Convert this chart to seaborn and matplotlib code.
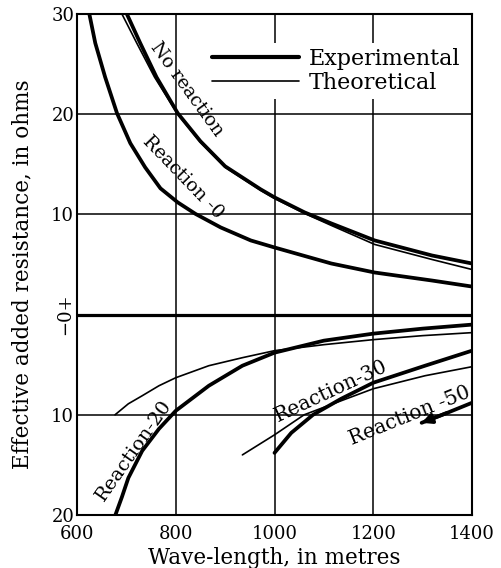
import matplotlib
matplotlib.use("Agg")
import matplotlib.pyplot as plt
from matplotlib.lines import Line2D
from matplotlib.ticker import FixedLocator
import seaborn as sns

# ---------------- data ----------------
noreac_exp_x = [701, 728, 761, 804, 850, 900, 972, 1000, 1061, 1115, 1203, 1319, 1400]
noreac_exp_y = [30, 27.1, 23.7, 20.1, 17.3, 14.8, 12.5, 11.7, 10.2, 9.1, 7.4, 5.9, 5.1]

noreac_th_x = [691, 721, 757, 804, 850, 900, 972, 1000, 1061, 1115, 1203, 1319, 1400]
noreac_th_y = [30, 27.1, 23.7, 20.0, 17.2, 14.7, 12.4, 11.6, 10.1, 8.9, 7.0, 5.5, 4.5]

reac0_x = [625, 637, 657, 681, 708, 738, 769, 804, 840, 891, 952, 1000, 1115, 1203, 1319, 1400]
reac0_y = [30, 27.1, 23.7, 20.1, 17.1, 14.7, 12.6, 11.2, 10.05, 8.7, 7.4, 6.7, 5.1, 4.2, 3.4, 2.8]

reac20_th_x = [677, 704, 732, 766, 800, 867, 935, 1000, 1100, 1200, 1300, 1400]
reac20_th_y = [-10.0, -8.9, -8.1, -7.1, -6.3, -5.1, -4.3, -3.6, -3.0, -2.5, -2.1, -1.8]

reac20_exp_x = [677, 691, 704, 732, 766, 800, 867, 935, 1000, 1100, 1200, 1300, 1400]
reac20_exp_y = [-20.1, -18.2, -16.3, -13.6, -11.4, -9.6, -7.1, -5.1, -3.8, -2.6, -1.9, -1.4, -1.0]

reac30_th_x = [935, 1000, 1060, 1135, 1200, 1305, 1400]
reac30_th_y = [-14.0, -12.0, -10.0, -8.6, -7.4, -6.1, -5.2]

reac30_exp_x = [1000, 1034, 1078, 1135, 1200, 1305, 1400]
reac30_exp_y = [-13.8, -11.8, -10.0, -8.4, -6.8, -5.1, -3.6]

reac50_exp_x = [1298, 1350, 1400]
reac50_exp_y = [-10.8, -9.8, -8.8]

x_ticks = [600, 800, 1000, 1200, 1400]
x_ticklabels = ["600", "800", "1000", "1200", "1400"]
y_ticks = [30, 20, 10, 0, -10, -20]
y_ticklabels = ["30", "20", "10", "\u22120+", "10", "20"]

curve_labels = ["No reaction", "Reaction -0", "Reaction-20", "Reaction-30", "Reaction -50"]

# ---------------- styling ----------------
sns.set_style("white")
plt.rcParams["font.family"] = ["DejaVu Serif"]
plt.rcParams["text.color"] = "black"
plt.rcParams["axes.labelcolor"] = "black"

THICK = 2.7
THIN = 1.2

fig = plt.figure(figsize=(5.01, 5.68), dpi=100)
ax = fig.add_axes([77 / 501, 1 - 515 / 568, 395 / 501, 501 / 568])

def draw(xs, ys, lw):
    sns.lineplot(x=xs, y=ys, ax=ax, color="black", linewidth=lw,
                 sort=False, estimator=None, legend=False)

draw(noreac_th_x, noreac_th_y, THIN)
draw(noreac_exp_x, noreac_exp_y, THICK)
draw(reac0_x, reac0_y, THICK)
draw(reac20_th_x, reac20_th_y, THIN)
draw(reac20_exp_x, reac20_exp_y, THICK)
draw(reac30_th_x, reac30_th_y, THIN)
draw(reac30_exp_x, reac30_exp_y, THICK)
draw(reac50_exp_x, reac50_exp_y, THICK)
ax.annotate("", xy=(reac50_exp_x[0], reac50_exp_y[0]),
            xytext=(reac50_exp_x[1], reac50_exp_y[1]),
            arrowprops=dict(arrowstyle="-|>", color="black", lw=THICK,
                            mutation_scale=14, shrinkA=0, shrinkB=0))

ax.axhline(0, color="black", lw=2.3, zorder=3)

ax.set_xlim(600, 1400)
ax.set_ylim(-20, 30)
ax.xaxis.set_major_locator(FixedLocator(x_ticks))
ax.yaxis.set_major_locator(FixedLocator(y_ticks))
ax.set_xticklabels(x_ticklabels, fontsize=13)
ax.set_yticklabels(y_ticklabels, fontsize=13)
for lab in ax.get_yticklabels():
    if lab.get_text() == y_ticklabels[3]:
        lab.set_rotation(90)
        lab.set_va("center")
ax.tick_params(axis="both", length=0, colors="black")
ax.tick_params(axis="x", pad=7)
ax.tick_params(axis="y", pad=2)

ax.grid(True, color="black", lw=1.1)
ax.set_axisbelow(True)
for s in ax.spines.values():
    s.set_color("black")
    s.set_linewidth(1.5)

ax.set_xlabel("Wave-length, in metres", fontsize=15.5)
ax.set_ylabel("Effective added resistance, in ohms", fontsize=15.5)
ax.xaxis.set_label_coords(0.499, -0.064)
ax.yaxis.set_label_coords(-0.111, 0.481)

# curve labels
lab_kw = dict(ha="center", va="center", rotation_mode="anchor", zorder=5)
ax.text(823, 22.5, curve_labels[0], rotation=-54, fontsize=13.5, **lab_kw)
ax.text(815, 13.7, curve_labels[1], rotation=-46, fontsize=13.5, **lab_kw)
ax.text(716, -13.6, curve_labels[2], rotation=55, fontsize=14, **lab_kw)
ax.text(1115, -7.6, curve_labels[3], rotation=25, fontsize=14.5, **lab_kw)
ax.text(1274, -10.1, curve_labels[4], rotation=22, fontsize=14.5, **lab_kw)

# legend
handles = [Line2D([], [], color="black", lw=3.0),
           Line2D([], [], color="black", lw=THIN)]
leg = ax.legend(handles, ["Experimental", "Theoretical"], loc="upper right",
                bbox_to_anchor=(0.982, 0.942), fontsize=16, handlelength=3.9,
                handletextpad=0.45, labelspacing=0.12, borderpad=0.2,
                borderaxespad=0, frameon=True, fancybox=False, framealpha=1.0)
leg.get_frame().set_facecolor("white")
leg.get_frame().set_linewidth(0)

fig.savefig("out.png", dpi=100)
